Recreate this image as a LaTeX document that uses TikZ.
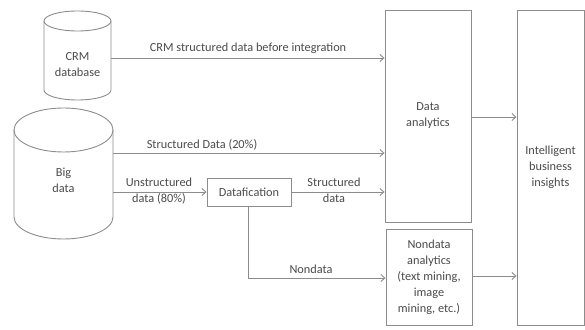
\documentclass[tikz,border=0pt]{standalone}
\usepackage{fontspec}
\setmainfont{Carlito}
\usetikzlibrary{arrows.meta}
\definecolor{txt}{HTML}{4A4A4A}
\definecolor{ln}{HTML}{8C8C8C}
\begin{document}
\begin{tikzpicture}[x=1pt,y=1pt,
  every node/.style={text=txt,font=\fontsize{12.3}{16}\selectfont},
  box/.style={draw=ln,line width=0.9pt,inner sep=0pt,align=center},
  lbl/.style={inner sep=0pt,align=center},
  conn/.style={draw=ln,line width=0.9pt,-{Straight Barb[length=4pt,width=7pt]}},
  plain/.style={draw=ln,line width=0.9pt}]
\useasboundingbox (0,0) rectangle (585,329);
% CRM cylinder
\draw[plain] (44,308) -- (44,239) arc[start angle=180,end angle=360,x radius=33.5,y radius=10] -- (111,308);
\draw[plain] (77.5,308) ellipse[x radius=33.5,y radius=10];
\node[lbl] (crm) at (77.5,264.5) {CRM\\database};
\coordinate (crmE) at (111,271);
% Big data cylinder
\draw[plain] (14,199) -- (14,112) arc[start angle=180,end angle=360,x radius=49.5,y radius=22] -- (113,199);
\draw[plain] (63.5,199) ellipse[x radius=49.5,y radius=22];
\node[lbl] (big) at (63.5,149) {Big\\data};
\coordinate (bigS) at (113,176);
\coordinate (bigU) at (113,137);
% boxes
\node[box,minimum width=86,minimum height=212] (da) at (428,213) {Data\\analytics};
\node[box,minimum width=86,minimum height=96] (nda) at (429,52) {Nondata\\analytics\\(text mining,\\image\\mining, etc.)};
\node[box,minimum width=67,minimum height=315] (ibi) at (550.5,161.5) {\raisebox{-8pt}{\parbox{60pt}{\centering Intelligent\\business\\insights}}};
\node[box,minimum width=84,minimum height=28] (dat) at (249,137) {Datafication};
% connectors
\draw[conn] (crmE) -- (da.west |- crmE);
\draw[conn] (bigS) -- (da.west |- bigS);
\draw[conn] (bigU) -- (dat.west |- bigU);
\draw[conn] (dat.east) -- (da.west |- dat.east);
\coordinate (nd) at (248,51);
\draw[conn] (dat.south -| nd) -- (nd) -- (nda.west |- nd);
\draw[conn] (da.east |- 0,212) -- (ibi.west |- 0,212);
\draw[conn] (nda.east |- 0,53) -- (ibi.west |- 0,53);
% labels
\node[lbl] (l1) at (248,281) {CRM structured data before integration};
\node[lbl] (l2) at (202,184) {Structured Data (20\%)};
\node[lbl] (l3) at (159,137.5) {Unstructured\\data (80\%)};
\node[lbl] (l4) at (334,139) {Structured\\data};
\node[lbl] (l5) at (311,60) {Nondata};
\end{tikzpicture}
\end{document}
